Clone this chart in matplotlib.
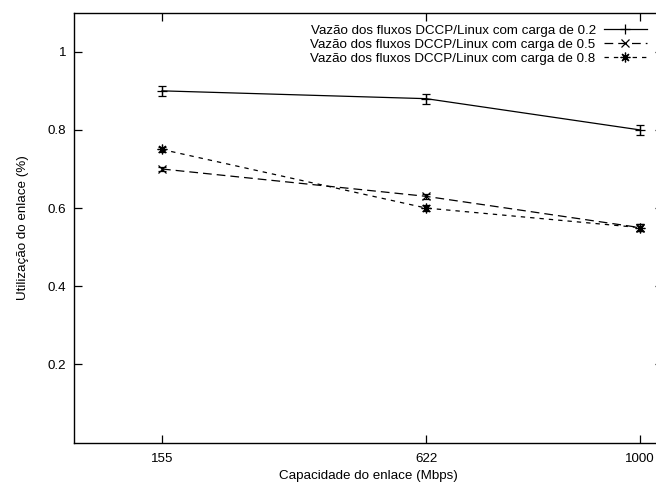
import matplotlib
matplotlib.use("Agg")
import matplotlib.pyplot as plt
from matplotlib.lines import Line2D

plt.rcParams['font.family'] = ['Liberation Sans', 'DejaVu Sans']

# Link capacity (Mbps)
capacidade = [155, 622, 1000]

# Link utilisation per offered load
util_02 = [0.90, 0.88, 0.80]
err_02 = [0.013, 0.013, 0.013]
util_05 = [0.70, 0.63, 0.55]
err_05 = [0.006, 0.006, 0.008]
util_08 = [0.75, 0.60, 0.55]
err_08 = [0.006, 0.008, 0.008]

rotulos = ["Vazão dos fluxos DCCP/Linux com carga de 0.2",
           "Vazão dos fluxos DCCP/Linux com carga de 0.5",
           "Vazão dos fluxos DCCP/Linux com carga de 0.8"]

FS = 9.6
W, H = 656, 483
fig = plt.figure(figsize=(W / 100, H / 100), dpi=100)
x0, x1 = 74.3, 662.6
y0, y1 = 442.5, 12.7
ax = fig.add_axes([x0 / W, 1 - y0 / H, (x1 - x0) / W, (y0 - y1) / H])

asterisco = (8, 2, 0)
estilos = [
    dict(ls='-', marker='+', ms=7),
    dict(ls=(0, (7, 4)), marker='x', ms=5.5),
    dict(ls=(0, (3.5, 4)), marker=asterisco, ms=7),
]
series = [(util_02, err_02), (util_05, err_05), (util_08, err_08)]

for (vals, errs), st in zip(series, estilos):
    ax.errorbar(capacidade, vals, yerr=errs, color='black', lw=0.9,
                ls=st['ls'], marker=st['marker'], ms=st['ms'], mew=0.9,
                capsize=3, capthick=0.9, elinewidth=0.9)

ax.set_xlim(0, 1040)
ax.set_ylim(0, 1.1)
ax.set_xticks(capacidade)
ax.set_xticklabels([str(c) for c in capacidade])
ax.set_yticks([0.2, 0.4, 0.6, 0.8, 1.0])
ax.set_yticklabels(['0.2', '0.4', '0.6', '0.8', '1'])
ax.tick_params(direction='in', length=6, width=0.9, labelsize=FS,
               top=True, right=True, color='black')
ax.tick_params(axis='x', pad=7.5)
ax.tick_params(axis='y', pad=6)
for s in ax.spines.values():
    s.set_linewidth(1.0)

ax.set_xlabel("Capacidade do enlace (Mbps)", fontsize=FS, labelpad=3.5)
ax.set_ylabel("Utilização do enlace (%)", fontsize=FS, labelpad=13)

handles = [Line2D([], [], color='black', lw=0.9, ls=st['ls'],
                  marker=st['marker'], ms=st['ms'], mew=0.9)
           for st in estilos]
leg = ax.legend(handles, rotulos, loc='upper right', frameon=False,
                markerfirst=False, fontsize=FS, handlelength=3.25,
                handletextpad=0.6, labelspacing=0.12, borderpad=0,
                borderaxespad=0,
                bbox_to_anchor=(647 / W, 1 - 24.5 / H),
                bbox_transform=fig.transFigure)

fig.savefig("out.png", dpi=100)
